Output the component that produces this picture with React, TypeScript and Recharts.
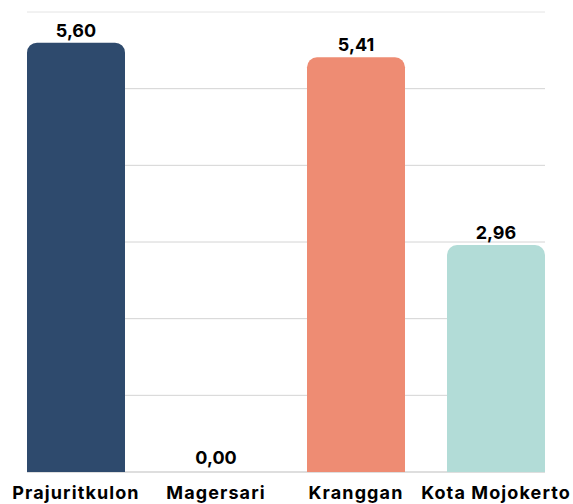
import { BarChart, Bar, XAxis, YAxis, CartesianGrid, Cell, LabelList, ReferenceDot } from "recharts";

const categories = ["Prajuritkulon", "Magersari", "Kranggan", "Kota Mojokerto"];
const values = [5.6, 0.0, 5.41, 2.96];
const barColors = ["#2E4A6D", "#2E4A6D", "#EE8C73", "#B2DCD7"];
const yTicks = [0, 1, 2, 3, 4, 5, 6];

const data = categories.map((name, i) => ({ name, value: values[i] }));

const fmt = (v: any) => Number(v).toFixed(2).replace(".", ",");

const labelStyle = { fill: "#000", fontSize: 18, fontWeight: 700, fontFamily: "Inter, sans-serif" };

// baseline a bit darker, top line a bit lighter than the rest
const gridLine = (p: any) => {
  let stroke = "#d4d4d4";
  if (p.index === 0) stroke = "#bdbdbd";
  if (p.index === yTicks.length - 1) stroke = "#e4e4e4";
  return <line key={p.key} x1={p.x1} y1={p.y1} x2={p.x2} y2={p.y2} stroke={stroke} strokeWidth={1} />;
};

export default function App() {
  return (
    <div style={{ position: "absolute", left: 0, top: 0, background: "#fff" }}>
      <BarChart
        width={573}
        height={504}
        data={data}
        margin={{ top: 12, right: 7, left: 6, bottom: 0 }}
        barSize={98}
      >
        <CartesianGrid vertical={false} horizontal={gridLine} x={27} width={518} />
        <YAxis hide domain={[0, 6]} ticks={yTicks} />
        <XAxis
          dataKey="name"
          axisLine={false}
          tickLine={false}
          height={32}
          tickMargin={8}
          interval={0}
          tick={{ ...labelStyle, letterSpacing: 1.1 }}
        />
        <Bar dataKey="value" radius={[10, 10, 0, 0]} isAnimationActive={false}>
          {data.map((d, i) => (
            <Cell key={d.name} fill={barColors[i]} />
          ))}
          <LabelList dataKey="value" position="top" offset={6} formatter={fmt} style={labelStyle} />
        </Bar>
        {/* zero-height bars get no label from LabelList, so put it on a dot */}
        {data
          .filter((d) => d.value === 0)
          .map((d) => (
            <ReferenceDot
              key={d.name}
              x={d.name}
              y={0}
              r={0.01}
              fill="none"
              stroke="none"
              label={{ value: fmt(d.value), position: "top", offset: 8, style: labelStyle }}
            />
          ))}
      </BarChart>
    </div>
  );
}
